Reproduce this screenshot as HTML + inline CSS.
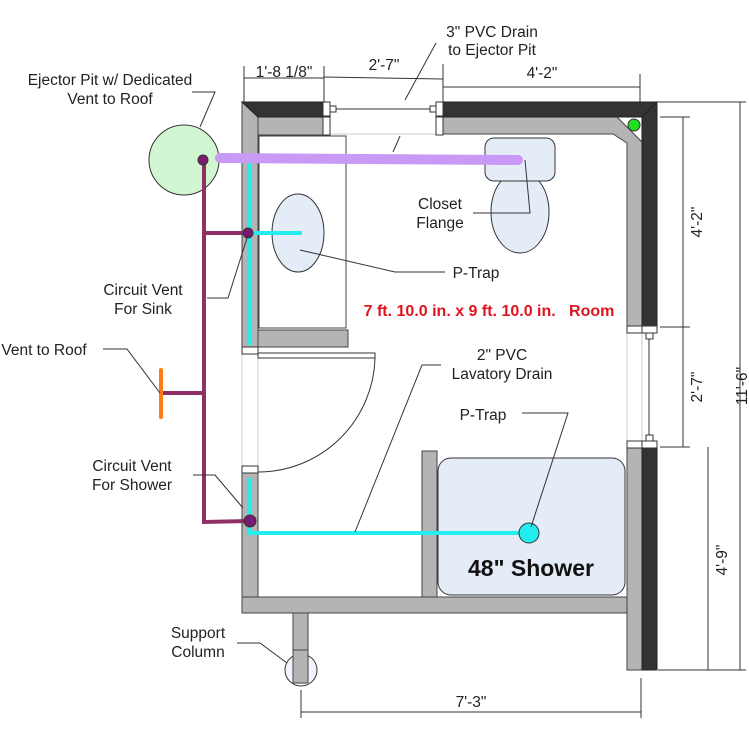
<!DOCTYPE html>
<html><head><meta charset="utf-8"><style>
html,body{margin:0;padding:0;background:#fff;}
svg{display:block;}
text{font-family:"Liberation Sans",Arial,sans-serif;font-size:15.5px;fill:#222;white-space:pre;}
</style></head><body>
<svg width="749" height="749" viewBox="0 0 749 749" xmlns="http://www.w3.org/2000/svg">
<rect width="749" height="749" fill="#fff"/>
<g stroke="#ccc" stroke-width="1">
<line x1="242" y1="347" x2="242" y2="472"/><line x1="258" y1="347" x2="258" y2="472"/>
<line x1="330" y1="134" x2="436" y2="134"/>
<line x1="627" y1="330" x2="627" y2="441"/><line x1="642" y1="330" x2="642" y2="441"/>
</g>
<g fill="#b4b4b4" stroke="#444" stroke-width="1">
<polygon points="242,102 258,117 258,347 242,347"/>
<rect x="242" y="472" width="16" height="141"/>
<rect x="242" y="597" width="385" height="16"/>
<rect x="293" y="613" width="15" height="70"/>
<rect x="422" y="451" width="15" height="146"/>
<rect x="627" y="447" width="15" height="223"/>
<polygon points="258,117 323,117 323,135 258,135"/>
<polygon points="443,117 617,117 642,142 642,330 627,330 627,143 613,134 443,134"/>
<rect x="258" y="330" width="90" height="17"/>
</g>
<g fill="#333" stroke="#222">
<polygon points="242,102 323,102 323,117 258,117"/>
<polygon points="443,102 657,102 642,117 443,117"/>
<polygon points="642,117 657,102 657,330 642,330"/>
<rect x="642" y="447" width="15" height="223"/>
</g>
<g fill="#fff" stroke="#333" stroke-width="1">
<rect x="323" y="102" width="7" height="14"/><rect x="323" y="117" width="7" height="18"/>
<rect x="436" y="102" width="7" height="14"/><rect x="436" y="117" width="7" height="18"/>
<rect x="330" y="106" width="6" height="6"/><rect x="430" y="106" width="6" height="6"/>
<rect x="627" y="326" width="15" height="7"/><rect x="642" y="326" width="15" height="7"/>
<rect x="627" y="441" width="15" height="7"/><rect x="642" y="441" width="15" height="7"/>
<rect x="646" y="333" width="7" height="6"/><rect x="646" y="435" width="7" height="6"/>
<rect x="242" y="347" width="16" height="7"/><rect x="242" y="466" width="16" height="7"/>
</g>
<line x1="336" y1="109" x2="430" y2="109" stroke="#333"/>
<line x1="649" y1="339" x2="649" y2="435" stroke="#333"/>
<rect x="259" y="136" width="87" height="192" fill="#fff" stroke="#444"/>
<ellipse cx="298" cy="233" rx="26" ry="39" fill="#e4ecf7" stroke="#333"/>
<ellipse cx="520" cy="212" rx="29" ry="41" fill="#e4ecf7" stroke="#333"/>
<rect x="485" y="138" width="70" height="43" rx="9" fill="#e4ecf7" stroke="#333"/>
<rect x="258" y="353" width="117" height="5" fill="#fff" stroke="#333"/>
<path d="M375,356 A117,117 0 0 1 258,472" fill="none" stroke="#333"/>
<rect x="438" y="458" width="187" height="137" rx="13" fill="#e4ecf7" stroke="#333"/>
<text x="531" y="576" text-anchor="middle" style="font-size:23px;font-weight:bold;fill:#111">48" Shower</text>
<circle cx="301" cy="670" r="16" fill="#e4ecf7" stroke="#333" fill-opacity="0.5"/>
<rect x="293" y="650" width="15" height="33" fill="#b4b4b4" stroke="#444"/>
<circle cx="634" cy="125" r="6" fill="#22dd22" stroke="#333"/>
<circle cx="184" cy="160" r="35" fill="#d2f5d2" stroke="#333"/>
<g stroke="#22eef0" stroke-width="4" fill="none">
<polyline points="249,160 249,345"/>
<line x1="249" y1="233" x2="302" y2="233"/>
<polyline points="249,478 249,533 528,533"/>
</g>
<circle cx="529" cy="533" r="10" fill="#22eef0" stroke="#333"/>
<line x1="220" y1="158" x2="518" y2="160" stroke="#c89af5" stroke-width="10" stroke-linecap="round"/>
<g stroke="#8e2f66" stroke-width="4" fill="none">
<polyline points="204,160 204,522 250,521"/>
<line x1="204" y1="233" x2="248" y2="233"/>
<line x1="204" y1="393" x2="161" y2="393"/>
</g>
<line x1="161" y1="370" x2="161" y2="417" stroke="#ff7a10" stroke-width="4" stroke-linecap="round"/>
<g fill="#7a1a70" stroke="#333"><circle cx="203" cy="160" r="5"/><circle cx="248" cy="233" r="5"/><circle cx="250" cy="521" r="6"/></g>
<g stroke="#333" stroke-width="1" fill="none">
<polyline points="192,92 215,92 200,127"/>
<polyline points="207,298 228,298 248,235"/>
<polyline points="103,349 127,349 160,393"/>
<polyline points="193,475 215,475 243,508"/>
<polyline points="436,43 405,100"/><line x1="400" y1="136" x2="393" y2="152"/>
<polyline points="300,250 395,272 445,272"/>
<polyline points="473,213 530,213 525,160"/>
<polyline points="441,365 422,365 355,532"/>
<polyline points="522,413 568,413 531,527"/>
<polyline points="237,643 260,643 287,663"/>
</g>
<g stroke="#333" stroke-width="1">
<line x1="244" y1="78" x2="324" y2="78"/><line x1="244" y1="66" x2="244" y2="102"/><line x1="324" y1="66" x2="324" y2="102"/>
<line x1="324" y1="77" x2="443" y2="79"/><line x1="443" y1="64" x2="443" y2="102"/>
<line x1="443" y1="87" x2="640" y2="87"/><line x1="640" y1="74" x2="640" y2="102"/>
<line x1="683" y1="117" x2="683" y2="447"/><line x1="660" y1="117" x2="690" y2="117"/>
<line x1="660" y1="327" x2="690" y2="327"/><line x1="660" y1="447" x2="690" y2="447"/>
<line x1="740" y1="102" x2="740" y2="670"/><line x1="658" y1="102" x2="746" y2="102"/>
<line x1="708" y1="447" x2="708" y2="670"/><line x1="658" y1="670" x2="746" y2="670"/>
<line x1="301" y1="712" x2="641" y2="712"/><line x1="301" y1="690" x2="301" y2="718"/><line x1="641" y1="678" x2="641" y2="718"/>
</g>
<text x="284" y="77" text-anchor="middle">1'-8 1/8"</text>
<text x="384" y="70" text-anchor="middle">2'-7"</text>
<text x="542" y="78" text-anchor="middle">4'-2"</text>
<text x="492" y="37" text-anchor="middle">3" PVC Drain</text>
<text x="492" y="55" text-anchor="middle">to Ejector Pit</text>
<text x="110" y="85" text-anchor="middle">Ejector Pit w/ Dedicated</text>
<text x="110" y="104" text-anchor="middle">Vent to Roof</text>
<text x="143" y="295" text-anchor="middle">Circuit Vent</text>
<text x="143" y="314" text-anchor="middle">For Sink</text>
<text x="44" y="355" text-anchor="middle">Vent to Roof</text>
<text x="132" y="471" text-anchor="middle">Circuit Vent</text>
<text x="132" y="490" text-anchor="middle">For Shower</text>
<text x="440" y="209" text-anchor="middle">Closet</text>
<text x="440" y="228" text-anchor="middle">Flange</text>
<text x="476" y="278" text-anchor="middle">P-Trap</text>
<text x="489" y="316" text-anchor="middle" style="font-size:16px;font-weight:bold;fill:#e0141e">7 ft. 10.0 in. x 9 ft. 10.0 in.   Room</text>
<text x="502" y="360" text-anchor="middle">2" PVC</text>
<text x="502" y="379" text-anchor="middle">Lavatory Drain</text>
<text x="483" y="420" text-anchor="middle">P-Trap</text>
<text x="198" y="638" text-anchor="middle">Support</text>
<text x="198" y="657" text-anchor="middle">Column</text>
<text x="471" y="707" text-anchor="middle">7'-3"</text>
<text transform="translate(702,222) rotate(-90)" text-anchor="middle">4'-2"</text>
<text transform="translate(702,387) rotate(-90)" text-anchor="middle">2'-7"</text>
<text transform="translate(727,560) rotate(-90)" text-anchor="middle">4'-9"</text>
<text transform="translate(747,386) rotate(-90)" text-anchor="middle">11'-6"</text>
</svg>
</body></html>
